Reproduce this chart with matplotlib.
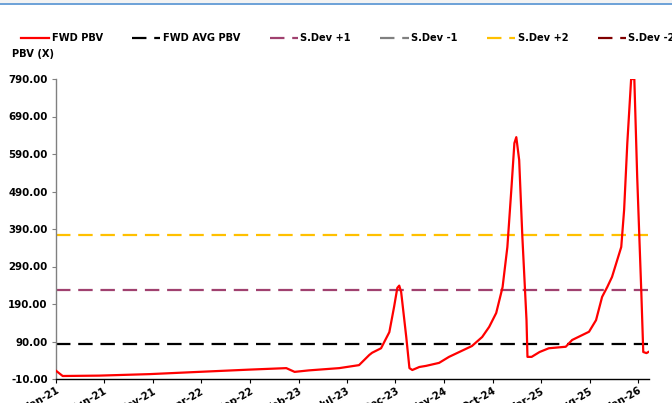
import matplotlib
matplotlib.use("Agg")
import matplotlib.pyplot as plt
from matplotlib.transforms import ScaledTranslation
from matplotlib.patches import Rectangle
import pandas as pd

# ---- data ----
dates = ["2021-01-01", "2021-01-22", "2021-05-16", "2021-10-21", "2022-03-25",
         "2022-08-30", "2022-12-24", "2023-01-19", "2023-03-05", "2023-06-08",
         "2023-08-09", "2023-09-10", "2023-09-19", "2023-10-17", "2023-11-12",
         "2023-11-27", "2023-12-07", "2023-12-13", "2023-12-19", "2024-01-04",
         "2024-01-14", "2024-01-23", "2024-02-14", "2024-03-06", "2024-04-16",
         "2024-05-17", "2024-07-28", "2024-08-29", "2024-09-20", "2024-10-12",
         "2024-11-01", "2024-11-16", "2024-11-29", "2024-12-08", "2024-12-14",
         "2024-12-23", "2025-01-02", "2025-01-15", "2025-01-18", "2025-01-31",
         "2025-02-25", "2025-03-26", "2025-05-18", "2025-06-07", "2025-07-30",
         "2025-08-21", "2025-09-09", "2025-09-25", "2025-10-10", "2025-11-08",
         "2025-11-17", "2025-11-27", "2025-12-09", "2025-12-19", "2025-12-28",
         "2026-01-10", "2026-01-16", "2026-01-26", "2026-02-01"]
fwd_pbv = [12, -2, -1, 3, 9,
           15, 19, 9, 13, 19,
           27, 54, 60, 72, 115,
           183, 233, 239, 222, 102,
           19, 14, 22, 25, 33,
           49, 78, 102, 129, 166,
           235, 342, 502, 619, 635,
           574, 369, 147, 49, 49,
           62, 72, 76, 94, 116,
           147, 209, 235, 262, 342,
           441, 619, 790, 790, 529,
           219, 62, 59, 62]
avg_pbv = 83
sd_plus1 = 228
sd_minus1 = -62
sd_plus2 = 373
sd_minus2 = -207

series_names = ["FWD PBV", "FWD AVG PBV", "S.Dev +1", "S.Dev -1", "S.Dev +2", "S.Dev -2"]
y_ticks = [-10, 90, 190, 290, 390, 490, 590, 690, 790]
x_tick_labels = ["Jan-21", "Jun-21", "Nov-21", "Apr-22", "Sep-22", "Feb-23", "Jul-23",
                 "Dec-23", "May-24", "Oct-24", "Mar-25", "Aug-25", "Jan-26"]

d = pd.to_datetime(dates)
tick_dates = pd.to_datetime(x_tick_labels, format="%b-%y")

fig = plt.figure(figsize=(6.72, 4.03), dpi=100)
ax = fig.add_axes([56/672, (403-379)/403, (649-56)/672, 300/403])

dash = (6.5, 3.5)
ax.plot(d, fwd_pbv, color="#ff0000", lw=1.6, label=series_names[0], zorder=5)
consts = [avg_pbv, sd_plus1, sd_minus1, sd_plus2, sd_minus2]
colors = ["#000000", "#a0416f", "#808080", "#ffc000", "#800000"]
for name, val, c in zip(series_names[1:], consts, colors):
    ax.plot([d[0], d[-1]], [val, val], color=c, lw=1.6, dashes=dash, label=name)

ax.set_ylim(-10, 790)
ax.set_xlim(pd.Timestamp("2021-01-01"), pd.Timestamp("2026-02-03"))
ax.set_yticks(y_ticks)
ax.set_yticklabels([f"{v:.2f}" for v in y_ticks], fontsize=7.4, fontweight="bold")
ax.set_xticks(tick_dates)
ax.set_xticklabels(x_tick_labels, fontsize=7.2, fontweight="bold", rotation=30,
                   ha="right", va="top", rotation_mode="anchor")
off = ScaledTranslation(8/100, -2/100, fig.dpi_scale_trans)
for lab in ax.get_xticklabels():
    lab.set_transform(lab.get_transform() + off)

ax.spines["top"].set_visible(False)
ax.spines["right"].set_visible(False)
ax.spines["left"].set_color("#808080")
ax.spines["left"].set_linewidth(1.0)
ax.spines["bottom"].set_color("#000000")
ax.spines["bottom"].set_linewidth(1.0)
ax.tick_params(axis="y", length=3, width=0.8, color="#808080", pad=3)
ax.tick_params(axis="x", length=3, width=0.8, pad=2)

leg = fig.legend(loc="center left", bbox_to_anchor=(21/672, 1 - 38/403), ncol=6,
                 frameon=False, prop={"size": 7.1, "weight": "bold"},
                 handlelength=2.85, handletextpad=0.25, columnspacing=3.0,
                 borderaxespad=0, borderpad=0)
fig.text(12/672, 1 - 54/403, "PBV (X)", fontsize=7.1, fontweight="bold", va="center", ha="left")

# top window border strip
fig.add_artist(Rectangle((0, 1 - 3/403), 1, 3/403, transform=fig.transFigure,
                         facecolor="#f3f3f3", edgecolor="none"))
fig.add_artist(Rectangle((0, 1 - 5/403), 1, 2/403, transform=fig.transFigure,
                         facecolor="#6fa3d8", edgecolor="none"))

fig.savefig("out.png", dpi=100)
